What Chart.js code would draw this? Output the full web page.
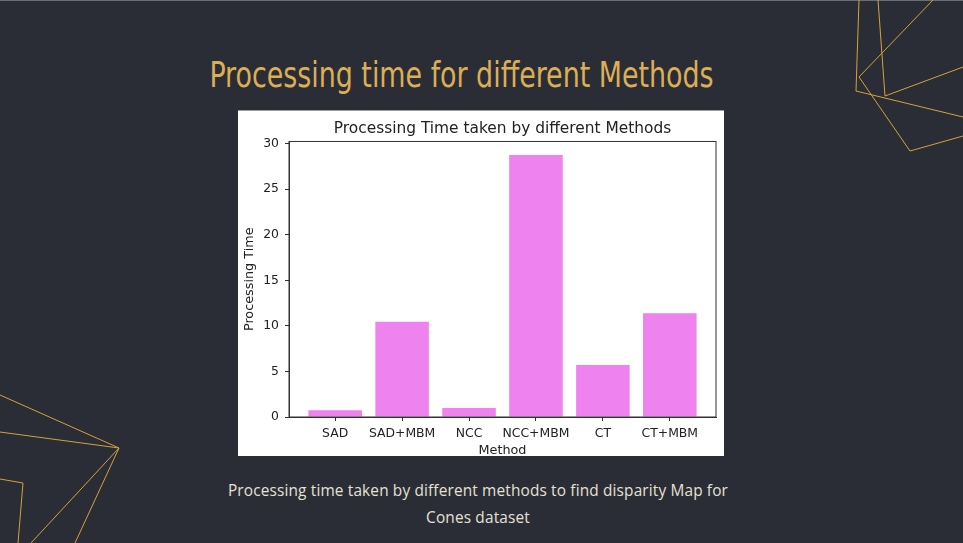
<!DOCTYPE html>
<html>
<head>
<meta charset="utf-8">
<script src="https://cdn.jsdelivr.net/npm/chart.js@4.4.1/dist/chart.umd.min.js"></script>
<style>
  html, body { margin: 0; padding: 0; }
  body {
    width: 963px; height: 543px; overflow: hidden;
    background: #2a2d36; position: relative;
  }
  #topline { position: absolute; left: 0; top: 0; width: 963px; height: 1px; background: #6b6d73; }
  #deco { position: absolute; left: 0; top: 0; }
  #heading {
    position: absolute; left: 0; top: 54px; width: 923px; text-align: center;
    font-family: "Liberation Sans Narrow", "DejaVu Sans Condensed", Roboto, sans-serif;
    font-stretch: condensed;
    font-size: 36px; color: #dcae55; white-space: nowrap;
    transform: scaleX(0.83); transform-origin: 461.5px 0;
  }
  #plotbox {
    position: absolute; left: 238px; top: 110px; width: 486px; height: 346px;
    background: #fff; border-top: 1px solid #9a9ca0; box-sizing: border-box;
  }
  #plotbox canvas { position: absolute; left: 0; top: -1px; }
  #caption {
    position: absolute; left: 0; top: 477px; width: 956px; text-align: center;
    font-family: "Open Sans", sans-serif; font-size: 15.4px; line-height: 27px;
    letter-spacing: 0.15px; color: #e6e1d3;
  }
</style>
</head>
<body>
<div id="topline"></div>
<svg id="deco" width="963" height="543">
  <g fill="none" stroke="#d4a23c" stroke-width="1">
    <polyline points="859,0 856,91 963,117" />
    <polyline points="878,0 885,96 963,67" />
    <polyline points="933,0 859,77 910,151 963,136" />
    <polyline points="0,395 119,448 0,432" />
    <polyline points="31,543 119,448 75,543" />
    <polyline points="0,479 23,483 18,543" />
  </g>
</svg>
<div id="heading">Processing time for different Methods</div>
<div id="plotbox"><canvas id="chart" width="486" height="346"></canvas></div>
<div id="caption">Processing time taken by different methods to find disparity Map for<br>Cones dataset</div>

<script>
const methods = ['SAD', 'SAD+MBM', 'NCC', 'NCC+MBM', 'CT', 'CT+MBM'];
const times = [0.73, 10.45, 0.98, 28.75, 5.72, 11.38];
const yTicks = [0, 5, 10, 15, 20, 25, 30];

const ink = '#222222';
const axisFont = { family: 'DejaVu Sans', size: 12.4, weight: 'normal' };
const labelFont = { family: 'DejaVu Sans', size: 12.8, weight: 'normal' };

// frame round the axes, like the matplotlib spines
const frame = {
  id: 'frame',
  afterDraw(chart) {
    const a = chart.chartArea;
    const c = chart.ctx;
    c.save();
    c.strokeStyle = '#333';
    c.lineWidth = 1;
    c.strokeRect(a.left, a.top, a.right - a.left, a.bottom - a.top);
    c.restore();
  }
};

new Chart(document.getElementById('chart'), {
  type: 'bar',
  data: {
    datasets: [{
      data: times.map((v, i) => ({ x: i, y: v })),
      backgroundColor: '#ee82ee',
      borderWidth: 0,
      barPercentage: 0.8,
      categoryPercentage: 1
    }]
  },
  options: {
    responsive: false,
    animation: false,
    layout: { padding: { left: 0, right: 8, top: 0, bottom: 0 } },
    plugins: {
      legend: { display: false },
      tooltip: { enabled: false },
      title: {
        display: true,
        fullSize: false,
        text: 'Processing Time taken by different Methods',
        color: ink,
        font: { family: 'DejaVu Sans', size: 15.4, weight: 'normal' },
        padding: { top: 10, bottom: 3 }
      }
    },
    scales: {
      x: {
        type: 'linear',
        min: -0.69,
        max: 5.69,
        offset: false,
        afterBuildTicks: s => { s.ticks = methods.map((m, i) => ({ value: i })); },
        afterFit: s => { s.height = 39; },
        ticks: {
          callback: v => methods[v],
          color: ink, font: axisFont, padding: 5,
          autoSkip: false, maxRotation: 0
        },
        grid: { drawOnChartArea: false, tickLength: 4, color: '#333', offset: false },
        border: { color: '#333', width: 1 },
        title: {
          display: true, text: 'Method', color: ink,
          font: Object.assign({ lineHeight: 1 }, labelFont),
          padding: { top: 0, bottom: -1 }
        }
      },
      y: {
        min: 0,
        max: 30.24,
        afterBuildTicks: s => { s.ticks = yTicks.map(v => ({ value: v })); },
        afterFit: s => { s.width = 51; },
        ticks: { color: ink, font: axisFont, padding: 6 },
        grid: { drawOnChartArea: false, tickLength: 4, color: '#333' },
        border: { color: '#333', width: 1 },
        title: {
          display: true, text: 'Processing Time', color: ink,
          font: labelFont,
          padding: { top: 4, bottom: 0 }
        }
      }
    }
  },
  plugins: [frame]
});
</script>
</body>
</html>
